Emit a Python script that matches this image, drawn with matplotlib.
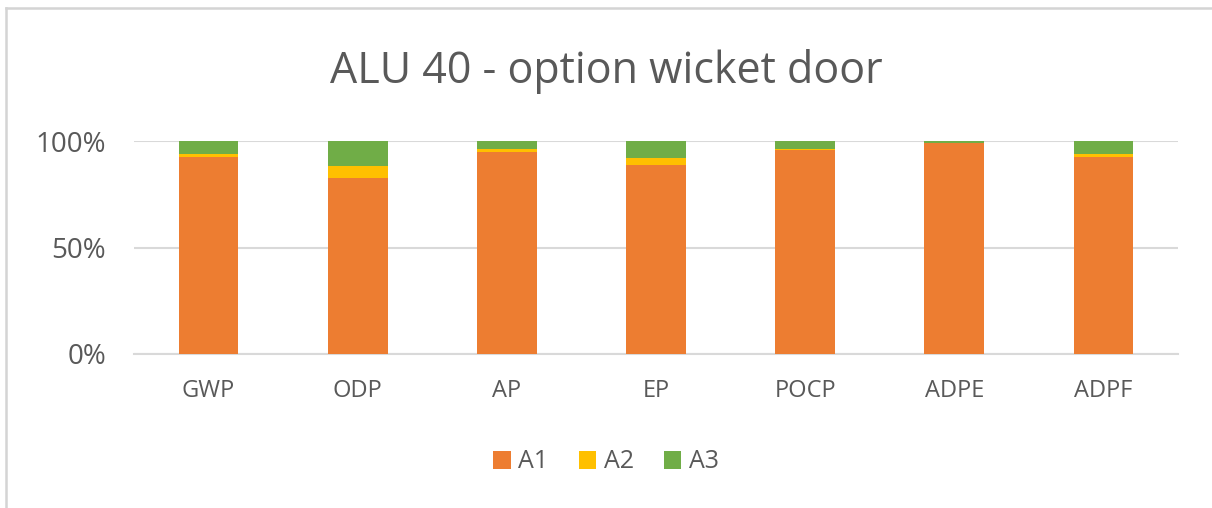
import numpy as np
import matplotlib.pyplot as plt
from matplotlib.lines import Line2D
from matplotlib.ticker import FuncFormatter

categories = ['GWP', 'ODP', 'AP', 'EP', 'POCP', 'ADPE', 'ADPF']
a1 = [92.5, 82.7, 95.0, 88.8, 95.8, 99.0, 92.5]
a2 = [1.5, 5.6, 1.3, 3.4, 0.5, 0.0, 1.5]
a3 = [6.0, 11.7, 3.7, 7.8, 3.7, 1.0, 6.0]

colors = ['#ED7D31', '#FFC000', '#70AD47']
labels = ['A1', 'A2', 'A3']

plt.rcParams['font.family'] = ['Open Sans', 'DejaVu Sans']

W, H = 1212, 508
fig = plt.figure(figsize=(W / 100, H / 100), dpi=100)
fig.patch.set_facecolor('white')
ax = fig.add_axes([134 / W, 1 - 354 / H, (1178 - 134) / W, (354 - 141) / H])

x = np.arange(len(categories))
bottom = np.zeros(len(categories))
for vals, c, lab in zip([a1, a2, a3], colors, labels):
    ax.bar(x, vals, 0.4, bottom=bottom, color=c, label=lab, zorder=3)
    bottom += np.array(vals)

ax.set_xlim(-0.5, len(categories) - 0.5)
ax.set_ylim(0, 100)
ax.set_yticks([0, 50, 100])
ax.yaxis.set_major_formatter(FuncFormatter(lambda v, p: f'{v:.0f}%'))
ax.set_xticks(x)
ax.set_xticklabels(categories)
ax.grid(axis='y', color='#d9d9d9', lw=1.5, zorder=0)
for s in ['top', 'right', 'left']:
    ax.spines[s].set_visible(False)
ax.spines['bottom'].set_color('#d9d9d9')
ax.spines['bottom'].set_linewidth(1.5)
ax.tick_params(axis='x', length=0, labelsize=17, colors='#595959', pad=18)
ax.tick_params(axis='y', length=0, labelsize=20, colors='#595959', pad=20)

fig.text(0.5, 1 - 72 / H, 'ALU 40 - option wicket door', ha='center', va='center',
         fontsize=31, color='#595959')

fig.legend(loc='center', bbox_to_anchor=(0.5, 1 - 462 / H), ncol=3, frameon=False,
           fontsize=18, handlelength=0.7, handleheight=0.7, handletextpad=0.3,
           columnspacing=1.2, labelcolor='#595959')

# chart frame visible on left and top only
fig.add_artist(Line2D([6 / W, 6 / W], [0, 1 - 8 / H], transform=fig.transFigure,
                      color='#d4d4d4', lw=1.8))
fig.add_artist(Line2D([6 / W, 1], [1 - 8 / H, 1 - 8 / H], transform=fig.transFigure,
                      color='#d4d4d4', lw=1.8))

plt.savefig('out.png', dpi=100)
